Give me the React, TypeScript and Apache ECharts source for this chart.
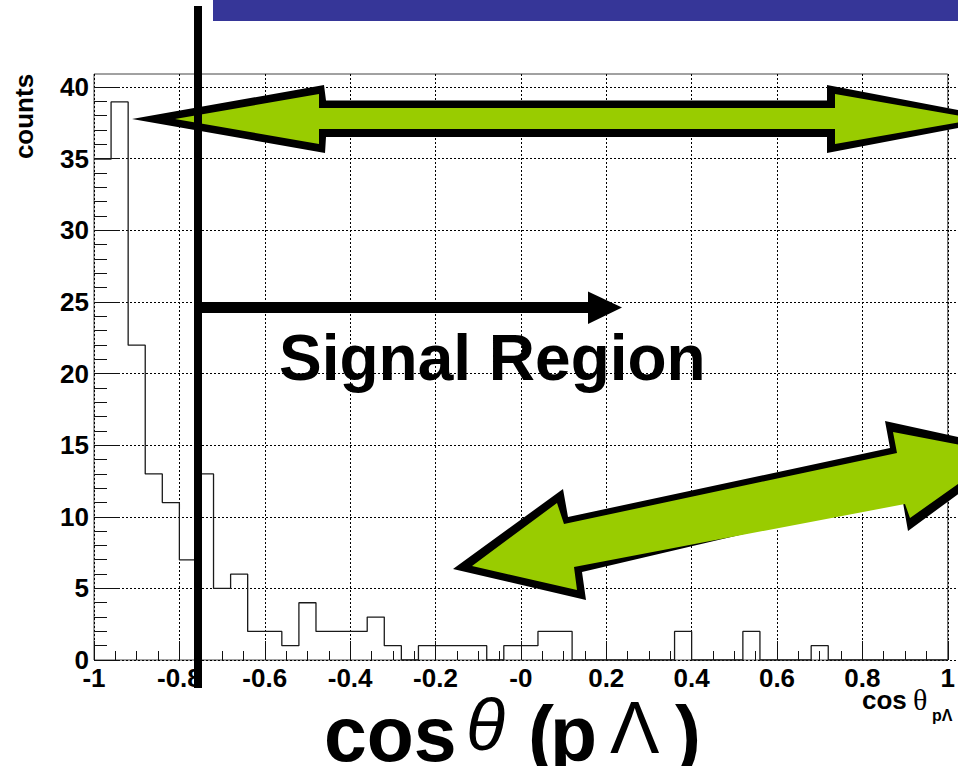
import React, { useEffect, useRef } from "react";
import * as echarts from "echarts";

// histogram: cos(theta_pLambda), 50 bins from -1 to 1
const binStart = -1;
const binWidth = 0.04;
const counts = [
  35, 39, 22, 13, 11, 7, 13, 5, 6, 2,
  2, 1, 4, 2, 2, 2, 3, 1, 0, 1,
  1, 1, 1, 0, 1, 1, 2, 2, 0, 0,
  0, 0, 0, 0, 2, 0, 0, 0, 2, 0,
  0, 0, 1, 0, 0, 0, 0, 0, 0, 0,
];
const xTickLabels = ["-1", "-0.8", "-0.6", "-0.4", "-0.2", "-0", "0.2", "0.4", "0.6", "0.8", "1"];
const yTickLabels = ["0", "5", "10", "15", "20", "25", "30", "35", "40"];

const FONT = "'Liberation Sans', Arial, Helvetica, sans-serif";
const SERIF = "'Liberation Serif', 'Times New Roman', serif";

function txt(text: string, x: number, y: number, size: number, opts: any = {}) {
  return {
    type: "text",
    x,
    y,
    z: opts.z ?? 120,
    rotation: opts.rotation ?? 0,
    style: {
      text,
      fill: "#000",
      fontSize: size,
      fontWeight: opts.weight ?? "bold",
      fontStyle: opts.style ?? "normal",
      fontFamily: opts.family ?? FONT,
      align: opts.align ?? "left",
      verticalAlign: "middle",
      textAlign: opts.align ?? "left",
      textVerticalAlign: "middle",
    },
  };
}

export default function App() {
  const ref = useRef<HTMLDivElement>(null);
  useEffect(() => {
    if (!ref.current) return;
    const chart = echarts.init(ref.current, null, { renderer: "svg" });

    const stepData: number[][] = [];
    counts.forEach((c, i) => {
      const lo = binStart + i * binWidth;
      const hi = lo + binWidth;
      stepData.push([lo, c]);
      stepData.push([hi, c]);
    });

    const grid = { type: [2, 2] as any, color: "#000", width: 1 };

    const option: any = {
      animation: false,
      backgroundColor: "#fff",
      grid: [
        { left: 94, top: 74, width: 863, height: 586, show: true, borderColor: "#444", borderWidth: 1, backgroundColor: "transparent" },
        { left: 94, top: 87, width: 863, height: 573, show: false },
      ],
      xAxis: [
        {
          type: "value",
          gridIndex: 0,
          min: -1,
          max: 1,
          interval: 0.2,
          axisLine: { show: false, onZero: false },
          axisTick: { show: true, inside: true, length: 19, lineStyle: { color: "#111", width: 1 } },
          minorTick: { show: true, splitNumber: 4, length: 9, lineStyle: { color: "#111", width: 1 } },
          minorSplitLine: { show: false },
          splitLine: { show: true, lineStyle: grid },
          axisLabel: {
            show: true,
            margin: 5,
            color: "#000",
            fontSize: 26,
            fontWeight: "bold",
            fontFamily: FONT,
            formatter: (v: number) => xTickLabels[Math.round((v + 1) / 0.2)] ?? "",
          },
        },
        { type: "value", gridIndex: 1, min: -1, max: 1, show: false, axisLine: { onZero: false } },
      ],
      yAxis: [
        { type: "value", gridIndex: 0, min: 0, max: 40.95, show: false, splitLine: { show: false }, axisLine: { onZero: false } },
        {
          type: "value",
          gridIndex: 1,
          position: "left",
          min: 0,
          max: 40,
          interval: 5,
          axisLine: { show: false, onZero: false },
          axisTick: { show: true, inside: true, length: 26, lineStyle: { color: "#111", width: 1 } },
          minorTick: { show: true, splitNumber: 5, length: 13, lineStyle: { color: "#111", width: 1 } },
          splitLine: { show: true, lineStyle: grid },
          axisLabel: {
            margin: 5,
            color: "#000",
            fontSize: 26,
            fontWeight: "bold",
            fontFamily: FONT,
            formatter: (v: number) => yTickLabels[Math.round(v / 5)] ?? "",
          },
        },
      ],
      series: [
        {
          type: "line",
          xAxisIndex: 0,
          yAxisIndex: 0,
          data: stepData,
          showSymbol: false,
          symbol: "none",
          lineStyle: { color: "#1a1a1a", width: 1.3 },
          z: 5,
        },
      ],
      graphic: [
        // blue title bar
        { type: "rect", z: 100, shape: { x: 213, y: 0, width: 745, height: 21 }, style: { fill: "#363698" } },
        // top green double arrow
        {
          type: "polygon",
          z: 101,
          shape: { points: [[132, 119], [324, 85], [326, 100.5], [827, 100.5], [827, 85], [1005, 119], [827, 153], [827, 137], [326, 137], [325, 153]] },
          style: { fill: "#000" },
        },
        {
          type: "polygon",
          z: 102,
          shape: { points: [[175, 119], [319, 94], [319, 108], [835, 108], [835, 94], [978, 119], [835, 144], [835, 129], [319, 129], [319, 144]] },
          style: { fill: "#99cc00" },
        },
        // lower green double arrow
        {
          type: "polygon",
          z: 101,
          shape: { points: [[453, 569], [563, 489], [568, 517], [890, 448], [885, 421], [1018, 450], [908, 531], [902, 497], [582, 572], [586, 600]] },
          style: { fill: "#000" },
        },
        {
          type: "polygon",
          z: 102,
          shape: { points: [[472, 566], [557, 503], [564, 524], [897, 453], [893, 432], [1002, 453], [910, 518], [905, 504], [574, 567], [577, 590]] },
          style: { fill: "#99cc00" },
        },
        // vertical cut line
        { type: "rect", z: 110, shape: { x: 194, y: 6, width: 8, height: 682 }, style: { fill: "#000" } },
        // signal region arrow
        { type: "rect", z: 110, shape: { x: 198, y: 302, width: 392, height: 11 }, style: { fill: "#000" } },
        { type: "polygon", z: 110, shape: { points: [[588, 291.5], [622, 307.5], [588, 324]] }, style: { fill: "#000" } },
        txt("Signal Region", 279, 357.5, 64),
        // y axis title
        txt("counts", 24, 116.5, 26, { rotation: Math.PI / 2, align: "center" }),
        // x axis title (small)
        txt("cos", 862, 700.3, 26),
        txt("θ", 913, 699, 30, { weight: "normal", family: SERIF }),
        txt("pΛ", 932, 715, 16),
        // big x label
        txt("cos", 324, 733.7, 77),
        txt("θ", 466, 725, 72, { weight: "normal", style: "italic" }),
        txt("(", 528, 733.7, 78),
        txt("p", 550, 733.7, 77),
        txt("Λ", 610, 727.4, 74, { weight: "normal" }),
        txt(")", 675, 733.7, 78),
      ],
    };
    chart.setOption(option);
    return () => chart.dispose();
  }, []);
  return (
    <div
      ref={ref}
      style={{ position: "absolute", left: 0, top: 0, width: 958, height: 766, background: "#fff" }}
    />
  );
}
